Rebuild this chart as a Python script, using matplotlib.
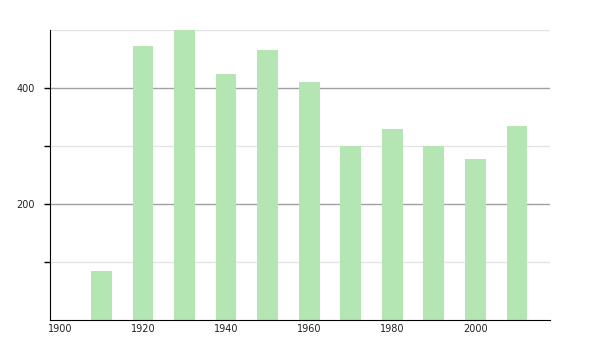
import matplotlib
matplotlib.use("Agg")
import matplotlib.pyplot as plt

# population by census year
years = [1910, 1920, 1930, 1940, 1950, 1960, 1970, 1980, 1990, 2000, 2010]
population = [85, 472, 500, 424, 465, 410, 300, 330, 300, 278, 334]

major_ticks = [200, 400]
minor_ticks = [100, 300, 500]
x_ticks = [1900, 1920, 1940, 1960, 1980, 2000]

fig = plt.figure(figsize=(6, 3.5), dpi=100)
ax = fig.add_axes([0.083, 0.086, 0.834, 0.828])

for v in minor_ticks:
    ax.axhline(v, color='#e4e4e4', lw=1, zorder=0)
for v in major_ticks:
    ax.axhline(v, color='#a0a0a0', lw=1, zorder=0)

ax.bar(years, population, width=5, color='#b3e6b3', zorder=2)

ax.set_xlim(1897.6, 2018)
ax.set_ylim(0, 500)
ax.set_yticks(major_ticks)
ax.set_yticks([100, 300], minor=True)
ax.set_xticks(x_ticks)
ax.tick_params(axis='y', which='both', direction='out', length=4, width=1,
               labelsize=7, pad=7, labelcolor='#222222')
ax.tick_params(axis='x', length=0, labelsize=7, pad=3, labelcolor='#222222')

for s in ['top', 'right']:
    ax.spines[s].set_visible(False)
ax.spines['left'].set_color('black')
ax.spines['bottom'].set_color('black')

fig.savefig('out.png', dpi=100)
